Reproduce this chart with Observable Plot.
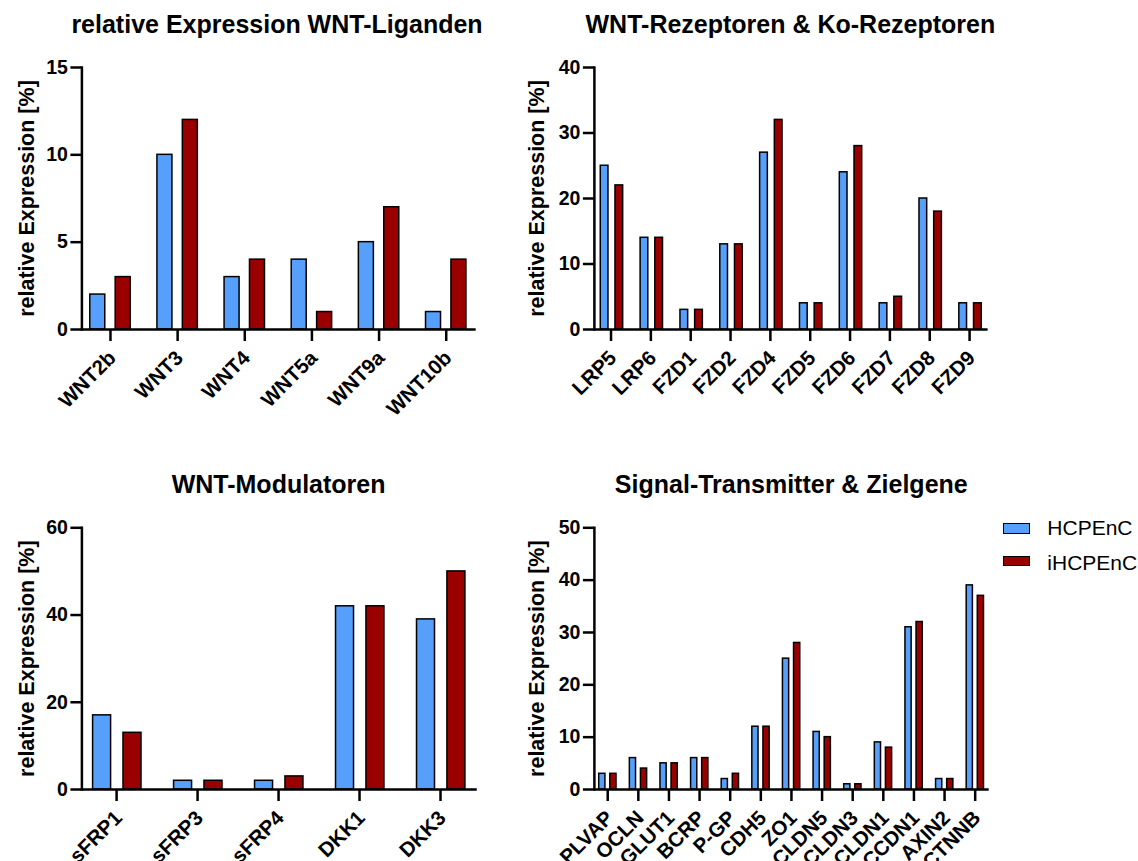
<!DOCTYPE html>
<html><head><meta charset="utf-8">
<script src="https://cdn.jsdelivr.net/npm/d3@7"></script>
<script src="https://cdn.jsdelivr.net/npm/@observablehq/plot@0.6"></script>
<style>
body{margin:0;background:#fff;}
#root{position:relative;width:1138px;height:861px;overflow:hidden;font-family:"Liberation Sans",Arial,sans-serif;color:#000;}
.panel{position:absolute;}
.title{position:absolute;font-weight:bold;font-size:25px;line-height:1;white-space:nowrap;transform:translateX(-50%);}
.legend-sw{position:absolute;width:24.4px;height:8.7px;border:1.5px solid #000;}
.legend-tx{position:absolute;font-size:21px;line-height:1;white-space:nowrap;}
svg g[aria-label="y-axis label"] text{font-size:21.5px;}
</style>
</head><body><div id="root"></div>
<script>
// ---------- data ----------
const seriesNames = ["HCPEnC", "iHCPEnC"];

const ligandGenes = ["WNT2b", "WNT3", "WNT4", "WNT5a", "WNT9a", "WNT10b"];
const ligandHCPEnC = [2, 10, 3, 4, 5, 1];
const ligandIHCPEnC = [3, 12, 4, 1, 7, 4];
const ligandTicks = [0, 5, 10, 15];

const receptorGenes = ["LRP5", "LRP6", "FZD1", "FZD2", "FZD4", "FZD5", "FZD6", "FZD7", "FZD8", "FZD9"];
const receptorHCPEnC = [25, 14, 3, 13, 27, 4, 24, 4, 20, 4];
const receptorIHCPEnC = [22, 14, 3, 13, 32, 4, 28, 5, 18, 4];
const receptorTicks = [0, 10, 20, 30, 40];

const modulatorGenes = ["sFRP1", "sFRP3", "sFRP4", "DKK1", "DKK3"];
const modulatorHCPEnC = [17, 2, 2, 42, 39];
const modulatorIHCPEnC = [13, 2, 3, 42, 50];
const modulatorTicks = [0, 20, 40, 60];

const targetGenes = ["PLVAP", "OCLN", "GLUT1", "BCRP", "P-GP", "CDH5", "ZO1", "CLDN5", "CLDN3", "CLDN1", "CCDN1", "AXIN2", "CTNNB"];
const targetHCPEnC = [3, 6, 5, 6, 2, 12, 25, 11, 1, 9, 31, 2, 39];
const targetIHCPEnC = [3, 4, 5, 6, 3, 12, 28, 10, 1, 8, 32, 2, 37];
const targetTicks = [0, 10, 20, 30, 40, 50];

const titles = ["relative Expression WNT-Liganden", "WNT-Rezeptoren & Ko-Rezeptoren", "WNT-Modulatoren", "Signal-Transmitter & Zielgene"];
const yLabel = "relative Expression [%]";

// ---------- styling ----------
const BLUE = "#56a0fb", RED = "#9a0000";
const root = document.getElementById("root");

function panel(o) {
  const rows = o.genes.map((g, i) => ({gene: g, a: o.a[i], b: o.b[i]}));
  const bw = (o.range[1] - o.range[0]) / o.genes.length;
  const ins = (off, w) => ({insetLeft: bw / 2 + off - w / 2, insetRight: bw / 2 - off - w / 2});
  const chart = Plot.plot({
    width: o.width, height: o.height,
    marginLeft: o.ml, marginRight: o.mr, marginTop: o.mt, marginBottom: o.mb,
    style: {fontFamily: '"Liberation Sans", Arial, sans-serif', fontSize: "19.5px", fontWeight: "bold", background: "transparent", overflow: "visible"},
    x: {type: "band", domain: o.genes, range: o.range, padding: 0, round: false},
    y: {domain: [0, o.ticks[o.ticks.length - 1]]},
    marks: [
      Plot.barY(rows, {x: "gene", y: "a", fill: BLUE, stroke: "#000", strokeWidth: 1.5, ...ins(o.offA, o.bar)}),
      Plot.barY(rows, {x: "gene", y: "b", fill: RED, stroke: "#000", strokeWidth: 1.5, ...ins(o.offB, o.bar)}),
      Plot.axisX({tickSize: 12, strokeWidth: 2.5, tickFormat: () => "", label: null}),
      Plot.axisX({tickRotate: -45, tickSize: 0, tickPadding: 25, dx: 2, fontSize: "20.5px", label: null}),
      Plot.axisY({ticks: o.ticks, tickSize: 11, tickPadding: 3, strokeWidth: 2.5, label: yLabel, labelAnchor: "center", labelArrow: "none", labelOffset: o.lo}),
      Plot.ruleY([0], {strokeWidth: 2.5}),
      Plot.frame({anchor: "left", strokeWidth: 2.5})
    ]
  });
  const d = document.createElement("div");
  d.className = "panel";
  d.style.left = o.left + "px"; d.style.top = o.top + "px";
  d.appendChild(chart);
  root.appendChild(d);
  const t = document.createElement("div");
  t.className = "title";
  t.textContent = o.title;
  t.style.left = o.tx + "px"; t.style.top = o.ty + "px";
  root.appendChild(t);
}

panel({genes: ligandGenes, a: ligandHCPEnC, b: ligandIHCPEnC, ticks: ligandTicks, title: titles[0],
  left: 0, top: 0, width: 500, height: 420, ml: 81.4, mr: 24.3, mt: 67, mb: 91, range: [76.4, 479.3],
  offA: -12.7, offB: 12.7, bar: 15, lo: 63.5, tx: 277, ty: 12.2});
panel({genes: receptorGenes, a: receptorHCPEnC, b: receptorIHCPEnC, ticks: receptorTicks, title: titles[1],
  left: 500, top: 0, width: 500, height: 420, ml: 93.9, mr: 12.4, mt: 67, mb: 91, range: [90.6, 489.0],
  offA: -6.4, offB: 8.3, bar: 7.7, lo: 65.3, tx: 790.4, ty: 12.2});
panel({genes: modulatorGenes, a: modulatorHCPEnC, b: modulatorIHCPEnC, ticks: modulatorTicks, title: titles[2],
  left: 0, top: 430, width: 500, height: 431, ml: 81.4, mr: 23.2, mt: 97.3, mb: 72, range: [75.6, 480.5],
  offA: -14.5, offB: 15.9, bar: 18, lo: 63.5, tx: 278.6, ty: 472.2});
panel({genes: targetGenes, a: targetHCPEnC, b: targetIHCPEnC, ticks: targetTicks, title: titles[3],
  left: 500, top: 430, width: 500, height: 431, ml: 93.9, mr: 11.3, mt: 97.3, mb: 72, range: [91.9, 490.0],
  offA: -5.4, offB: 5.7, bar: 6.2, lo: 65.3, tx: 791.3, ty: 472.2});

// legend
[[BLUE, 523.3, 517.2], [RED, 555.7, 552.2]].forEach(([c, sy, ty], i) => {
  const s = document.createElement("div");
  s.className = "legend-sw"; s.style.background = c; s.style.left = "1003.3px"; s.style.top = sy + "px";
  root.appendChild(s);
  const t = document.createElement("div");
  t.className = "legend-tx"; t.textContent = seriesNames[i]; t.style.left = "1047.3px"; t.style.top = ty + "px";
  root.appendChild(t);
});
</script>
</body></html>
